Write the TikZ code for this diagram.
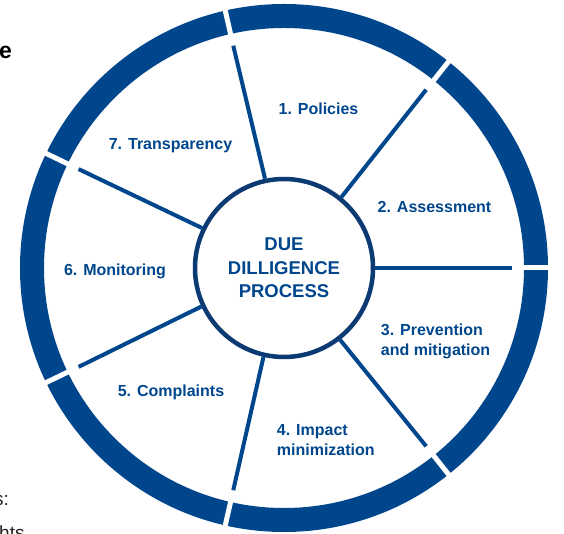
\documentclass[tikz,border=0pt]{standalone}
\usepackage{fontspec}
\setmainfont{Liberation Sans}
\definecolor{ringblue}{RGB}{0,70,140}
\definecolor{navy}{RGB}{12,58,115}
\definecolor{pagetext}{RGB}{35,35,35}
\begin{document}
\begin{tikzpicture}[x=1pt,y=1pt,
  stage/.style={text=ringblue, font=\bfseries\fontsize{16}{20.5}\selectfont, inner sep=0pt},
  hub/.style={circle, draw=navy, line width=4.5pt, minimum size=178pt, inner sep=0pt,
    text=ringblue, align=center, font=\bfseries\fontsize{18.5}{23.3}\selectfont},
  spoke/.style={draw=ringblue, line width=4pt},
  ringgap/.style={draw=white, line width=5pt},
  pagefrag/.style={inner sep=0pt, text=pagetext}]
\useasboundingbox (-284,-266) rectangle (280,268);
% outer ring
\draw[ringblue, line width=24pt] (0,0) circle[radius=252];
% centre
\node[hub] (c) at (0,0) {DUE\\DILLIGENCE\\PROCESS};
% spokes and ring gaps
\foreach \i/\a in {1/0,2/51.43,3/102.86,4/154.29,5/205.71,6/257.14,7/308.57}{
  \coordinate (o\i) at (\a:228);
  \coordinate (gi\i) at (\a:236);
  \coordinate (go\i) at (\a:268);
  \draw[ringgap] (gi\i) -- (go\i);
  \draw[spoke] (c.\a) -- (o\i);
}
% labels
\node[stage, anchor=base] (s1) at (34.5,153) {1. Policies};
\node[stage, anchor=base] (s2) at (150.5,55) {2. Assessment};
\node[stage, anchor=north west, align=left] (s3) at (96.7,-55.5) {3. Prevention\\and mitigation};
\node[stage, anchor=north west, align=left] (s4) at (-7.3,-156.2) {4. Impact\\minimization};
\node[stage, anchor=base] (s5) at (-113,-129) {5. Complaints};
\node[stage, anchor=base] (s6) at (-169,-8) {6. Monitoring};
\node[stage, anchor=base] (s7) at (-113.5,118.7) {7. Transparency};
% fragments of surrounding page text
\begin{scope}
\clip (-284,-266) rectangle (280,268);
\node[pagefrag, anchor=base west, text=black, font=\bfseries\fontsize{23}{27}\selectfont] (f1) at (-285,209) {e};
\node[pagefrag, anchor=base east, font=\fontsize{19}{23}\selectfont] (f2) at (-275,-237) {s:};
\node[pagefrag, anchor=base west, font=\fontsize{19}{23}\selectfont] (f3) at (-285,-271) {hts};
\end{scope}
\end{tikzpicture}
\end{document}
